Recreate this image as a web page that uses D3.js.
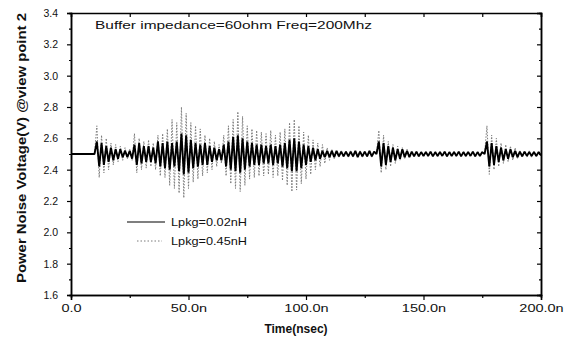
<!DOCTYPE html>
<html>
<head>
<meta charset="utf-8">
<script src="https://cdn.jsdelivr.net/npm/d3@7"></script>
<style>
  body { margin: 0; background: #fff; }
  svg { display: block; font-family: "Liberation Sans", Arial, sans-serif; }
</style>
</head>
<body>
<div id="chart"></div>
<script>
// sample grid of both traces: t = 0, 1, 2 ... 200 nsec
var T_START = 0, T_STEP = 1;

var lpkg002 = [
  2.50,2.50,2.50,2.50,2.50,2.50,2.50,2.50,2.50,2.50,2.50,
  2.58,2.42,2.57,2.43,2.55,2.45,2.54,2.46,2.53,2.47,2.53,2.48,2.52,2.48,2.52,2.47,
  2.56,2.43,2.57,2.44,2.55,2.45,2.55,2.45,2.54,2.44,2.58,2.42,2.57,2.41,2.58,2.40,2.57,2.42,2.58,2.39,
  2.63,2.37,2.62,2.38,2.59,2.41,2.57,2.42,2.56,2.43,2.57,2.43,2.55,2.45,2.54,2.46,2.53,2.46,2.56,2.42,
  2.58,2.40,2.61,2.39,2.62,2.38,2.60,2.40,2.58,2.42,2.57,2.43,2.56,2.43,2.56,2.44,2.55,2.44,2.56,2.43,2.55,2.44,2.56,2.42,
  2.57,2.41,2.59,2.39,2.60,2.39,2.58,2.41,2.56,2.43,2.55,2.45,2.54,2.46,2.53,2.47,2.52,2.48,2.52,2.48,
  2.52,2.48,2.52,2.485,2.515,2.485,2.515,2.485,2.515,2.485,2.52,2.48,2.515,2.485,2.515,2.485,2.52,2.485,2.515,2.50,
  2.58,2.42,2.57,2.43,2.55,2.45,2.54,2.46,2.53,2.47,2.53,2.48,2.52,2.48,
  2.515,2.485,2.515,2.485,2.512,2.488,2.512,2.488,2.515,2.485,2.512,2.488,2.512,2.488,2.515,2.485,
  2.512,2.488,2.512,2.488,2.515,2.485,2.512,2.488,2.512,2.488,2.515,2.485,2.512,2.488,2.512,2.50,
  2.58,2.42,2.57,2.43,2.55,2.45,2.54,2.46,2.53,2.47,2.53,2.48,2.52,2.48,
  2.515,2.485,2.515,2.488,2.512,2.488,2.512,2.488,2.512,2.49
];

// Lpkg=0.45nH (dotted)
var lpkg045 = [
  2.50,2.50,2.50,2.50,2.50,2.50,2.50,2.50,2.50,2.50,2.50,
  2.68,2.35,2.62,2.38,2.60,2.40,2.57,2.43,2.56,2.45,2.55,2.46,2.54,2.47,2.53,2.46,
  2.63,2.38,2.60,2.40,2.58,2.41,2.59,2.42,2.57,2.40,2.62,2.36,2.63,2.35,2.66,2.30,2.72,2.28,2.70,2.25,
  2.80,2.22,2.76,2.28,2.70,2.32,2.68,2.34,2.66,2.36,2.62,2.38,2.60,2.40,2.58,2.42,2.56,2.44,2.62,2.36,
  2.68,2.31,2.72,2.28,2.77,2.26,2.74,2.30,2.68,2.34,2.66,2.35,2.65,2.36,2.64,2.36,2.63,2.37,2.65,2.35,2.62,2.36,2.64,2.33,
  2.66,2.30,2.70,2.26,2.72,2.27,2.68,2.31,2.64,2.34,2.62,2.37,2.59,2.40,2.57,2.42,2.56,2.44,2.54,2.46,
  2.53,2.47,2.52,2.48,2.52,2.48,2.52,2.48,2.52,2.48,2.52,2.48,2.52,2.48,2.52,2.48,2.52,2.48,2.52,2.50,
  2.65,2.38,2.62,2.40,2.58,2.42,2.56,2.44,2.55,2.46,2.54,2.47,2.53,2.48,
  2.515,2.485,2.515,2.485,2.515,2.485,2.515,2.485,2.515,2.485,2.515,2.485,2.515,2.485,2.515,2.485,
  2.515,2.485,2.515,2.485,2.515,2.485,2.515,2.485,2.515,2.485,2.515,2.485,2.515,2.485,2.515,2.50,
  2.68,2.37,2.62,2.40,2.60,2.42,2.57,2.44,2.56,2.45,2.55,2.46,2.54,2.47,
  2.52,2.48,2.52,2.48,2.52,2.48,2.515,2.485,2.515,2.49
];

var seriesNames = ['Lpkg=0.02nH', 'Lpkg=0.45nH'];
var xTicks = [0, 50, 100, 150, 200];
var xMinorTicks = [25, 75, 125, 175];
var yTicks = [1.6, 1.8, 2.0, 2.2, 2.4, 2.6, 2.8, 3.0, 3.2, 3.4];
var yMinorTicks = [1.7, 1.9, 2.1, 2.3, 2.5, 2.7, 2.9, 3.1, 3.3];
var titleText = 'Buffer impedance=60ohm Freq=200Mhz';
var xLabel = 'Time(nsec)';
var yLabel = 'Power Noise Voltage(V) @view point 2';

(function () {
  var width = 564, height = 343;
  var margin = { top: 13, right: 23, bottom: 48, left: 71 };
  var iw = width - margin.left - margin.right;
  var ih = height - margin.top - margin.bottom;

  var x = d3.scaleLinear().domain([0, 200]).range([0, iw]);
  var y = d3.scaleLinear().domain([1.6, 3.4]).range([ih, 0]);

  var svg = d3.select('#chart').append('svg').attr('width', width).attr('height', height);
  var g = svg.append('g').attr('transform', 'translate(' + margin.left + ',' + margin.top + ')');

  // stretch a text element horizontally (the scanned labels are wide)
  function widen(sel, k) {
    sel.each(function () {
      var w = this.getComputedTextLength();
      d3.select(this).attr('textLength', w * k).attr('lengthAdjust', 'spacingAndGlyphs');
    });
  }

  var line = d3.line()
    .x(function (d, i) { return x(T_START + i * T_STEP); })
    .y(function (d) { return y(d); });

  g.append('path').datum(lpkg045).attr('d', line)
    .attr('fill', 'none').attr('stroke', '#7a7a7a').attr('stroke-width', 1)
    .attr('stroke-dasharray', '1.5,1.5');
  g.append('path').datum(lpkg002).attr('d', line)
    .attr('fill', 'none').attr('stroke', '#000').attr('stroke-width', 1.9)
    .attr('stroke-linejoin', 'bevel');

  // axes
  var bottom = g.append('g').attr('transform', 'translate(0,' + ih + ')')
    .call(d3.axisBottom(x).tickValues(xTicks).tickSize(5).tickPadding(5)
      .tickFormat(function (d) { return d.toFixed(1) + (d === 0 ? '' : 'n'); }));
  bottom.selectAll('text').attr('font-size', 10).attr('fill', '#111').call(widen, 1.45);
  g.append('g').attr('transform', 'translate(0,' + ih + ')')
    .call(d3.axisBottom(x).tickValues(xMinorTicks).tickSize(3).tickFormat(''));

  var left = g.append('g')
    .call(d3.axisLeft(y).tickValues(yTicks).tickSize(4).tickPadding(9).tickFormat(d3.format('.1f')));
  left.selectAll('text').attr('font-size', 10.5).attr('fill', '#111');
  g.append('g').call(d3.axisLeft(y).tickValues(yMinorTicks).tickSize(2).tickFormat(''));

  g.append('g').call(d3.axisTop(x).tickValues(xTicks.concat(xMinorTicks)).tickSize(-4).tickFormat(''));
  g.append('g').attr('transform', 'translate(' + iw + ',0)')
    .call(d3.axisRight(y).tickValues(yTicks).tickSize(-4).tickFormat(''));
  g.append('g').attr('transform', 'translate(' + iw + ',0)')
    .call(d3.axisRight(y).tickValues(yMinorTicks).tickSize(-2).tickFormat(''));

  g.selectAll('.domain').attr('stroke', '#000').attr('stroke-width', 1.5);
  g.selectAll('.tick line').attr('stroke', '#000').attr('stroke-width', 1.2);

  // title inside the plot
  svg.append('text').attr('x', 95).attr('y', 29).attr('font-size', 11).attr('fill', '#111')
    .attr('textLength', 277).attr('lengthAdjust', 'spacingAndGlyphs').text(titleText);

  // axis titles
  svg.append('text').attr('x', 296).attr('y', 333).attr('text-anchor', 'middle')
    .attr('font-size', 12).attr('font-weight', 'bold').attr('fill', '#111').text(xLabel);
  svg.append('text').attr('transform', 'translate(26,148) rotate(-90)').attr('text-anchor', 'middle')
    .attr('font-size', 13).attr('font-weight', 'bold').attr('fill', '#111')
    .attr('textLength', 270).attr('lengthAdjust', 'spacingAndGlyphs').text(yLabel);

  // legend
  var legend = svg.append('g');
  var legendRows = [
    { name: seriesNames[0], y: 222, x1: 127, x2: 165, stroke: '#000', dash: null, w: 1.2 },
    { name: seriesNames[1], y: 241, x1: 137, x2: 162, stroke: '#7a7a7a', dash: '1.5,2', w: 1 }
  ];
  legendRows.forEach(function (r) {
    legend.append('line').attr('x1', r.x1).attr('x2', r.x2).attr('y1', r.y).attr('y2', r.y)
      .attr('stroke', r.stroke).attr('stroke-width', r.w).attr('stroke-dasharray', r.dash);
    legend.append('text').attr('x', 171).attr('y', r.y + 4).attr('font-size', 10.5).attr('fill', '#111')
      .attr('textLength', 76).attr('lengthAdjust', 'spacingAndGlyphs').text(r.name);
  });
})();
</script>
</body>
</html>
